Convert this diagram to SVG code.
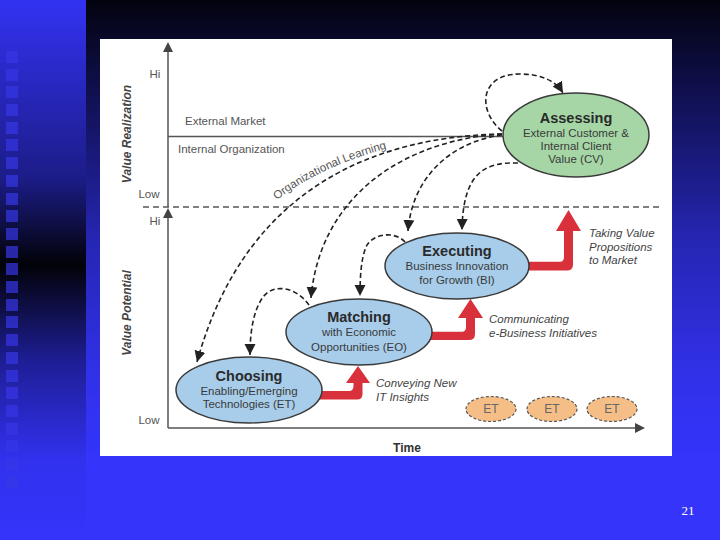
<svg xmlns="http://www.w3.org/2000/svg" width="720" height="540" viewBox="0 0 720 540">
<defs>
<linearGradient id="bgMain" x1="0" y1="0" x2="0" y2="1">
<stop offset="0" stop-color="#03030f"/>
<stop offset="0.2" stop-color="#12125a"/>
<stop offset="0.45" stop-color="#2626b5"/>
<stop offset="0.7" stop-color="#3131ea"/>
<stop offset="0.85" stop-color="#3434fb"/>
<stop offset="1" stop-color="#3434fb"/>
</linearGradient>
<linearGradient id="bgLeft" x1="0" y1="0" x2="0" y2="1">
<stop offset="0" stop-color="#3232f2"/>
<stop offset="0.33" stop-color="#1c1c88"/>
<stop offset="0.49" stop-color="#020208"/>
<stop offset="0.67" stop-color="#1e1e96"/>
<stop offset="0.85" stop-color="#3131ee"/>
<stop offset="1" stop-color="#3434fb"/>
</linearGradient>
<marker id="ah" markerUnits="userSpaceOnUse" markerWidth="12" markerHeight="12" refX="11" refY="6" orient="auto">
<path d="M0,0.5 L11,6 L0,11.5 z" fill="#222"/>
</marker>
<style>
.ax{stroke:#555;stroke-width:1.5;fill:none}
.lbl{font-family:"Liberation Sans",Arial,sans-serif;font-size:11.5px;fill:#555}
.vt{font-family:"Liberation Sans",Arial,sans-serif;font-size:12px;font-weight:bold;font-style:italic;fill:#444}
.it{font-family:"Liberation Sans",Arial,sans-serif;font-size:11.5px;font-style:italic;fill:#444}
.dc{stroke:#222;stroke-width:1.6;fill:none;stroke-dasharray:5 3;marker-end:url(#ah)}
.red{fill:#d8313b}
.blue{fill:#a7cdea;stroke:#3a3a3a;stroke-width:1.5}
.green{fill:#a6d6a6;stroke:#3a3a3a;stroke-width:1.5}
.et{fill:#f6be87;stroke:#555;stroke-width:1.2;stroke-dasharray:3 2}
.t1{font-family:"Liberation Sans",Arial,sans-serif;font-size:14.5px;font-weight:bold;fill:#2a2a2a;text-anchor:middle}
.t2{font-family:"Liberation Sans",Arial,sans-serif;font-size:11.5px;fill:#3a3a3a;text-anchor:middle}
.sq{fill:#3636e6;opacity:0.7}
</style>
</defs>
<!-- background -->
<rect x="0" y="0" width="720" height="540" fill="url(#bgMain)"/>
<rect x="0" y="0" width="86" height="540" fill="url(#bgLeft)"/>
<g>
<rect class="sq" x="6" y="51" width="12" height="12" opacity="0.2"/>
<rect class="sq" x="6" y="69" width="12" height="12" opacity="0.3"/>
<rect class="sq" x="6" y="86" width="12" height="12" opacity="0.4"/>
<rect class="sq" x="6" y="104" width="12" height="12" opacity="0.5"/>
<rect class="sq" x="6" y="122" width="12" height="12" opacity="0.6"/>
<rect class="sq" x="6" y="139" width="12" height="12"/>
<rect class="sq" x="6" y="157" width="12" height="12"/>
<rect class="sq" x="6" y="175" width="12" height="12"/>
<rect class="sq" x="6" y="193" width="12" height="12"/>
<rect class="sq" x="6" y="210" width="12" height="12"/>
<rect class="sq" x="6" y="228" width="12" height="12"/>
<rect class="sq" x="6" y="246" width="12" height="12"/>
<rect class="sq" x="6" y="263" width="12" height="12"/>
<rect class="sq" x="6" y="281" width="12" height="12"/>
<rect class="sq" x="6" y="299" width="12" height="12"/>
<rect class="sq" x="6" y="316" width="12" height="12"/>
<rect class="sq" x="6" y="334" width="12" height="12"/>
<rect class="sq" x="6" y="352" width="12" height="12"/>
<rect class="sq" x="6" y="370" width="12" height="12"/>
<rect class="sq" x="6" y="387" width="12" height="12"/>
<rect class="sq" x="6" y="405" width="12" height="12" opacity="0.6"/>
<rect class="sq" x="6" y="423" width="12" height="12" opacity="0.5"/>
<rect class="sq" x="6" y="440" width="12" height="12" opacity="0.4"/>
<rect class="sq" x="6" y="458" width="12" height="12" opacity="0.3"/>
<rect class="sq" x="6" y="476" width="12" height="12" opacity="0.2"/>
</g>
<!-- panel -->
<rect x="100" y="39" width="572" height="417" fill="#ffffff"/>
<!-- axes -->
<g id="axes">
<line class="ax" x1="168" y1="50" x2="168" y2="207"/>
<path d="M168,42 L173,52 L163,52 z" fill="#444"/>
<line class="ax" x1="168" y1="216" x2="168" y2="428"/>
<path d="M168,208 L173,218 L163,218 z" fill="#444"/>
<line class="ax" x1="168" y1="428" x2="636" y2="428"/>
<path d="M645,428 L635,423 L635,433 z" fill="#444"/>
<line x1="143" y1="207" x2="662" y2="207" stroke="#555" stroke-width="1.3" stroke-dasharray="6 4"/>
<line class="ax" x1="168" y1="136.5" x2="503" y2="136.5"/>
<text class="lbl" x="155" y="78" text-anchor="middle">Hi</text>
<text class="lbl" x="149" y="198" text-anchor="middle">Low</text>
<text class="lbl" x="155" y="225" text-anchor="middle">Hi</text>
<text class="lbl" x="149" y="424" text-anchor="middle">Low</text>
<text class="vt" transform="translate(131,134) rotate(-90)" text-anchor="middle">Value Realization</text>
<text class="vt" transform="translate(131,313) rotate(-90)" text-anchor="middle">Value Potential</text>
<text class="lbl" x="185" y="125">External Market</text>
<text class="lbl" x="178" y="153">Internal Organization</text>
<text class="vt" x="407" y="452" text-anchor="middle" style="font-style:normal;fill:#333">Time</text>
<path id="olp" d="M277,200 Q322,165 396,146" fill="none"/>
<text class="lbl"><textPath href="#olp">Organizational Learning</textPath></text>
</g>
<!-- connectors -->
<g id="connectors">
<path class="red" d="M316,391 H349 Q353.5,391 353.5,386 V383 H346 L358,366 L370,383 H362.5 V394 Q362.5,399.5 357,399.5 H316 Z"/>
<path class="red" d="M425,331.7 H462 Q466,331.7 466,327 V318 H458 L470.5,299 L483,318 H475 V334 Q475,340 469,340 H425 Z"/>
<path class="red" d="M525,261.7 H560 Q564,261.7 564,257 V231 H556 L568.5,210 L581,231 H573 V264.5 Q573,270.5 567,270.5 H525 Z"/>
<path class="dc" d="M502,131 C478,112 478,74 520,74 C540,74 555,80 563,93"/>
<path class="dc" d="M502,134 C400,136 250,170 197,362"/>
<path class="dc" d="M502,134 C405,140 320,195 311,298"/>
<path class="dc" d="M502,135 C450,142 412,178 408,231"/>
<path class="dc" d="M518,163 C485,162 463,172 462,230"/>
<path class="dc" d="M309,305 C296,287 274,283 263,297 C253,311 250,333 250,355"/>
<path class="dc" d="M405,242 C396,232 376,232 367,245 C361,257 360,277 360,296"/>
</g>
<!-- nodes -->
<g id="assessing">
<ellipse class="green" cx="576" cy="135" rx="73" ry="42"/>
<text class="t1" x="576" y="123">Assessing</text>
<text class="t2" x="576" y="137">External Customer &amp;</text>
<text class="t2" x="576" y="150">Internal Client</text>
<text class="t2" x="576" y="163">Value (CV)</text>
</g>
<g id="executing">
<ellipse class="blue" cx="457" cy="266" rx="72" ry="33"/>
<text class="t1" x="457" y="256">Executing</text>
<text class="t2" x="457" y="270">Business Innovation</text>
<text class="t2" x="457" y="284">for Growth (BI)</text>
</g>
<g id="matching">
<ellipse class="blue" cx="359" cy="332" rx="73" ry="33"/>
<text class="t1" x="359" y="322">Matching</text>
<text class="t2" x="359" y="336">with Economic</text>
<text class="t2" x="359" y="351">Opportunities (EO)</text>
</g>
<g id="choosing">
<ellipse class="blue" cx="249" cy="390" rx="73" ry="33"/>
<text class="t1" x="249" y="381">Choosing</text>
<text class="t2" x="249" y="395">Enabling/Emerging</text>
<text class="t2" x="249" y="408">Technologies (ET)</text>
</g>
<g id="et1">
<ellipse class="et" cx="491" cy="409" rx="25" ry="12.5"/>
<text class="t2" x="491" y="413" style="font-size:12px;fill:#666">ET</text>
</g>
<g id="et2">
<ellipse class="et" cx="552" cy="409" rx="25" ry="12.5"/>
<text class="t2" x="552" y="413" style="font-size:12px;fill:#666">ET</text>
</g>
<g id="et3">
<ellipse class="et" cx="612" cy="409" rx="25" ry="12.5"/>
<text class="t2" x="612" y="413" style="font-size:12px;fill:#666">ET</text>
</g>
<!-- arrow labels -->
<g id="labels">
<text class="it" x="589" y="237">Taking Value</text>
<text class="it" x="589" y="251">Propositions</text>
<text class="it" x="589" y="264">to Market</text>
<text class="it" x="489" y="323">Communicating</text>
<text class="it" x="489" y="337">e-Business Initiatives</text>
<text class="it" x="376" y="387">Conveying New</text>
<text class="it" x="376" y="401">IT Insights</text>
</g>
<text x="688" y="515" text-anchor="middle" font-family="'Liberation Serif',serif" font-size="13" fill="#ffffff">21</text>
</svg>
